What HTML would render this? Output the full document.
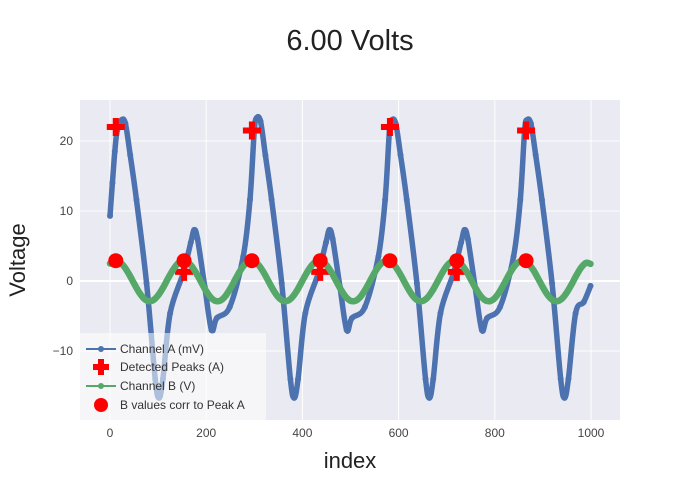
<!DOCTYPE html>
<html><head><meta charset="utf-8"><style>
body{margin:0;background:#fff}
svg{display:block;font-family:"Liberation Sans",sans-serif}
</style></head><body>
<svg id="chart" width="700" height="500" viewBox="0 0 700 500">
<rect x="0" y="0" width="700" height="500" fill="#fff"/>
<rect x="80" y="100" width="540" height="320" fill="#eaeaf2"/>
<g id="grid"></g>
<g id="series"></g>
<g id="ticks" font-size="12" fill="#444"></g>
<text x="350" y="50" text-anchor="middle" font-size="29" fill="#222">6.00 Volts</text>
<text x="350" y="468" text-anchor="middle" font-size="22" fill="#222">index</text>
<text transform="translate(25,260) rotate(-90)" text-anchor="middle" font-size="22" fill="#222">Voltage</text>
<g id="legend">
<rect x="80" y="333" width="186" height="87" fill="#fff" fill-opacity="0.55"/>
<g>
<line x1="86" y1="349" x2="116" y2="349" stroke="#4c72b0" stroke-width="2"/><circle cx="101" cy="349" r="3" fill="#4c72b0"/>
<text x="120" y="353" font-size="12" fill="#333">Channel A (mV)</text></g>
<g>
<path d="M98,359 h6 v5 h5 v6 h-5 v5 h-6 v-5 h-5 v-6 h5z" fill="#ff0000"/>
<text x="120" y="371" font-size="12" fill="#333">Detected Peaks (A)</text></g>
<g>
<line x1="86" y1="386" x2="116" y2="386" stroke="#55a868" stroke-width="2"/><circle cx="101" cy="386" r="3" fill="#55a868"/>
<text x="120" y="390" font-size="12" fill="#333">Channel B (V)</text></g>
<g>
<circle cx="101" cy="405" r="7" fill="#ff0000"/>
<text x="120" y="409" font-size="12" fill="#333">B values corr to Peak A</text></g>
</g>
</svg>
<script>
const aIdx=[0,5,10,15,24,32,42,55,76,94,102,110,125,152,168,175,182,197,211,222,249,277,291,300,305,313,323,336,357,375,383,391,406,433,449,456,463,478,492,503,530,558,572,581,586,594,604,617,638,656,664,672,687,714,730,737,744,759,773,784,811,839,853,862,867,875,885,898,919,937,945,953,968,985,999];
const aVal=[9.3,14,18.5,21.5,23,22.5,18,11.6,-0.3,-14,-16.7,-14,-4.6,1.1,5.5,7.3,6,-0.8,-7,-5.3,-3.7,3.5,11.6,21.5,23.3,22.8,18,11.6,-0.3,-14,-16.7,-14,-4.6,1.1,5.5,7.3,6,-0.8,-7,-5.3,-3.7,3.5,11.6,21.5,23,22.5,18,11.6,-0.3,-14,-16.7,-14,-4.6,1.1,5.5,7.3,6,-0.8,-7,-5.3,-3.7,3.5,11.6,21.5,23,22.5,18,11.6,-0.3,-14,-16.7,-14,-4.6,-3,-0.7];
const bIdx=[0,10,20,30,40,50,60,70,80,90,100,110,120,130,140,150,160,170,180,190,200,210,220,230,240,250,260,270,280,290,300,310,320,330,340,350,360,370,380,390,400,410,420,430,440,450,460,470,480,490,500,510,520,530,540,550,560,570,580,590,600,610,620,630,640,650,660,670,680,690,700,710,720,730,740,750,760,770,780,790,800,810,820,830,840,850,860,870,880,890,900,910,920,930,940,950,960,970,980,990,999];
const bVal=[2.5,2.89,2.72,2.01,0.92,-0.35,-1.56,-2.46,-2.88,-2.74,-2.06,-0.99,0.29,1.49,2.43,2.87,2.76,2.11,1.04,-0.22,-1.45,-2.39,-2.86,-2.78,-2.15,-1.1,0.16,1.39,2.36,2.85,2.8,2.19,1.16,-0.1,-1.34,-2.32,-2.84,-2.81,-2.23,-1.22,0.04,1.28,2.28,2.83,2.83,2.27,1.27,0.02,-1.23,-2.25,-2.82,-2.84,-2.31,-1.32,-0.08,1.18,2.21,2.8,2.85,2.34,1.37,0.14,-1.12,-2.17,-2.79,-2.86,-2.38,-1.42,-0.2,1.07,2.13,2.77,2.87,2.41,1.48,0.25,-1.02,-2.09,-2.75,-2.88,-2.44,-1.52,-0.31,0.96,2.05,2.73,2.88,2.47,1.58,0.37,-0.91,-2.01,-2.71,-2.89,-2.5,-1.62,-0.43,0.85,1.96,2.6,2.45];
const peakIdx=[12,154,295,437,582,721,865];
const peakVal=[22,1.3,21.5,1.3,22,1.3,21.5];
const corrVal=[2.9,2.9,2.9,2.9,2.9,2.9,2.9];
const xTicks=[0,200,400,600,800,1000];
const yTicks=[-10,0,10,20];
const yTickLabels=["\u221210","0","10","20"];

const NS="http://www.w3.org/2000/svg";
const X=v=>110+(v-0)*(591-110)/1000;
const Y=v=>281-v*7;
function mk(t,a,p){const e=document.createElementNS(NS,t);for(const k in a)e.setAttribute(k,a[k]);p.appendChild(e);return e;}
const grid=document.getElementById('grid'),ser=document.getElementById('series'),tk=document.getElementById('ticks');
xTicks.forEach((t,i)=>{
 const l=mk('line',{x1:X(t),x2:X(t),y1:100,y2:420,stroke:'#fff','stroke-width':1},grid);
 
 
 const tx=mk('text',{x:X(t),y:437,'text-anchor':'middle'},tk);tx.textContent=t;
 
 
});
yTicks.forEach((t,i)=>{
 const l=mk('line',{x1:80,x2:620,y1:Y(t),y2:Y(t),stroke:'#fff','stroke-width':t===0?2:1},grid);
 
 
 const tx=mk('text',{x:73,y:Y(t)+4,'text-anchor':'end'},tk);tx.textContent=yTickLabels[i];
 
 
});
function smooth(xs,ys){const P=xs.map((x,i)=>[X(x),Y(ys[i])]);let d='M'+P[0][0]+','+P[0][1];
 for(let i=0;i<P.length-1;i++){const p0=P[Math.max(0,i-1)],p1=P[i],p2=P[i+1],p3=P[Math.min(P.length-1,i+2)];
 d+=` C${p1[0]+(p2[0]-p0[0])/6},${p1[1]+(p2[1]-p0[1])/6} ${p2[0]-(p3[0]-p1[0])/6},${p2[1]-(p3[1]-p1[1])/6} ${p2[0]},${p2[1]}`;}return d;}
const gA=mk('g',{},ser);


mk('path',{d:smooth(aIdx,aVal),fill:'none',stroke:'#4c72b0','stroke-width':5.5,'stroke-linejoin':'round','stroke-linecap':'round'},gA);
aIdx.forEach((x,i)=>{const c=mk('circle',{cx:X(x),cy:Y(aVal[i]),r:3,fill:'#4c72b0'},gA);
 
 });
const gP=mk('g',{},ser);


peakIdx.forEach((x,i)=>{const cx=X(x),cy=Y(peakVal[i]);
 const p=mk('path',{d:`M${cx-3},${cy-9} h6 v6 h6 v6 h-6 v6 h-6 v-6 h-6 v-6 h6z`,fill:'#ff0000'},gP);
 
 });
const gB=mk('g',{},ser);


mk('path',{d:smooth(bIdx,bVal),fill:'none',stroke:'#55a868','stroke-width':6.5,'stroke-linejoin':'round','stroke-linecap':'round'},gB);
bIdx.forEach((x,i)=>{const c=mk('circle',{cx:X(x),cy:Y(bVal[i]),r:3,fill:'#55a868'},gB);
 
 });
const gC=mk('g',{},ser);


peakIdx.forEach((x,i)=>{const c=mk('circle',{cx:X(x),cy:Y(corrVal[i]),r:7.5,fill:'#ff0000'},gC);
 
 });
</script>
</body></html>
